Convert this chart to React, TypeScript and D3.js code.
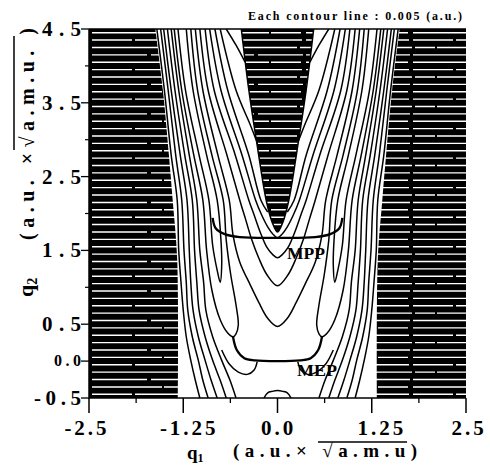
import React from "react";
import * as d3 from "d3";

type P = [number, number];

// axis ticks
const xMajorTicks = [-2.5, -1.25, 0, 1.25, 2.5];
const xMajorLabels = ["-2.5", "-1.25", "0.0", "1.25", "2.5"];
const xMinorTicks = [-1.875, -0.625, 0.625, 1.875];
const yMajorTicks = [4.5, 3.5, 2.5, 1.5, 0.5, 0.0, -0.5];
const yMajorLabels = ["4.5", "3.5", "2.5", "1.5", "0.5", "0.0", "-0.5"];
const yMinorTicks = [4.0, 3.0, 2.0, 1.0];

// dense-contour (black) regions, left half (mirrored for right)
const outerBlackEdge: P[] = [[-1.62, 4.5], [-1.52, 3.67], [-1.44, 2.79], [-1.39, 2.18], [-1.33, 1.37], [-1.32, -0.5]];
const ridgeEdge: P[] = [[-0.48, 4.5], [-0.38, 3.67], [-0.26, 2.86], [-0.15, 2.18], [-0.07, 1.88], [0, 1.75]];

// outer-wall contour lines of the left arm (leave through the bottom)
const outerQ2 = [4.5, 3.67, 2.79, 2.18, 1.5, 1.07, 0.69, 0.33, 0.01, -0.26, -0.5];
const outerQ1: number[][] = [
  [-1.6, -1.5, -1.41, -1.33, -1.31, -1.28, -1.25, -1.21, -1.15, -1.09, -1.03],
  [-1.55, -1.45, -1.35, -1.27, -1.24, -1.21, -1.19, -1.13, -1.05, -0.99, -0.92],
  [-1.51, -1.41, -1.29, -1.2, -1.17, -1.15, -1.12, -1.05, -0.96, -0.88, -0.8],
  [-1.46, -1.36, -1.23, -1.13, -1.1, -1.07, -1.04, -0.96, -0.86, -0.76, -0.68],
  [-1.41, -1.31, -1.17, -1.07, -1.03, -0.98, -0.95, -0.86, -0.74, -0.63, -0.55],
];

// contours closing on the floor of the left arm
const armTipLines: P[][] = [
  [[-1.37, 4.5], [-1.27, 3.67], [-1.11, 2.79], [-0.99, 2.18], [-0.94, 1.5], [-0.87, 0.96], [-0.76, 0.56], [-0.66, 0.38], [-0.59, 0.33],
   [-0.55, 0.37], [-0.52, 0.49], [-0.55, 0.76], [-0.62, 1.17], [-0.68, 1.64], [-0.72, 2.18], [-0.87, 2.79], [-1.06, 3.67], [-1.15, 4.5]],
  [[-1.32, 4.5], [-1.22, 3.67], [-1.04, 2.79], [-0.91, 2.18], [-0.86, 1.57], [-0.8, 1.23], [-0.76, 1.07],
   [-0.74, 1.3], [-0.75, 1.64], [-0.8, 2.18], [-0.94, 2.79], [-1.12, 3.67], [-1.21, 4.5]],
];

// U-shaped contours around the central ridge (left half, closing at q1 = 0)
const centralU: P[][] = [
  [[-1.09, 4.5], [-0.99, 3.67], [-0.79, 2.79], [-0.64, 2.18], [-0.59, 1.71], [-0.5, 1.34], [-0.36, 1.03], [-0.25, 0.8], [-0.13, 0.58], [0, 0.47]],
  [[-1.03, 4.5], [-0.92, 3.67], [-0.67, 2.79], [-0.5, 2.18], [-0.42, 1.91], [-0.34, 1.64], [-0.25, 1.4], [-0.14, 1.17], [0, 1.02]],
  [[-0.96, 4.5], [-0.84, 3.67], [-0.56, 2.79], [-0.38, 2.18], [-0.31, 1.98], [-0.23, 1.75], [-0.14, 1.54], [-0.06, 1.44], [0, 1.4]],
  [[-0.9, 4.5], [-0.75, 3.67], [-0.47, 2.79], [-0.29, 2.18], [-0.21, 1.98], [-0.13, 1.82], [-0.06, 1.72], [0, 1.67]],
];

// contours running into the ridge
const ridgeLines: P[][] = [
  [[-0.83, 4.5], [-0.66, 3.67], [-0.38, 2.79], [-0.22, 2.18], [-0.13, 2.02]],
  [[-0.76, 4.5], [-0.55, 3.67], [-0.36, 3.2], [-0.28, 2.99]],
  [[-0.68, 4.5], [-0.55, 4.28], [-0.43, 4.05]],
];

// lower well region
const jCurve: P[] = [[-0.74, 0.15], [-0.64, -0.04], [-0.52, -0.15], [-0.4, -0.18], [-0.31, -0.12], [-0.27, -0.01]];
const bumpHalf: P[] = [[-0.18, -0.5], [-0.13, -0.43], [-0.07, -0.41], [0, -0.4]];

// paths
const mppHalf: P[] = [[-0.86, 1.94], [-0.82, 1.8], [-0.7, 1.72], [-0.5, 1.68], [0, 1.67]];
const mepHalf: P[] = [[-0.59, 0.33], [-0.54, 0.15], [-0.44, 0.04], [-0.3, 0.01], [0, 0.0]];

const mirror = (pts: P[]): P[] => pts.map(([a, b]) => [-a, b] as P);
const fullU = (half: P[]): P[] => half.concat(mirror(half).reverse().slice(1));

export default function App() {
  const x = d3.scaleLinear().domain([-2.5, 2.5]).range([89, 466]);
  const y = d3.scaleLinear().domain([-0.5, 4.5]).range([398, 29]);
  const line = d3
    .line<P>()
    .x((d) => x(d[0]))
    .y((d) => y(d[1]))
    .curve(d3.curveCatmullRom.alpha(0.5));

  const leftBlack = line(outerBlackEdge) + `L${x(-2.5)},${y(-0.5)}L${x(-2.5)},${y(4.5)}Z`;
  const rightBlack = line(mirror(outerBlackEdge)) + `L${x(2.5)},${y(-0.5)}L${x(2.5)},${y(4.5)}Z`;
  const ridge = line(fullU(ridgeEdge)) + "Z";

  const stripes = d3.range(-0.45, 4.5, 0.1);

  const outerLines: P[][] = outerQ1.map((row) => row.map((v, i) => [v, outerQ2[i]] as P));

  const thin: P[][] = [];
  outerLines.forEach((l) => { thin.push(l); thin.push(mirror(l)); });
  armTipLines.forEach((l) => { thin.push(l); thin.push(mirror(l)); });
  ridgeLines.forEach((l) => { thin.push(l); thin.push(mirror(l)); });
  centralU.forEach((l) => thin.push(fullU(l)));
  thin.push(jCurve, mirror(jCurve));
  thin.push(fullU(bumpHalf));
  thin.push(fullU(ridgeEdge));

  const serif = "'Liberation Serif', 'Times New Roman', serif";
  const xLabelDx = [-2, 6, 1, 10, 3];
  const dashes = ["40 3 60 4", "70 2 30 5", "55 4 45 3", "90 3 20 2"];

  return (
    <svg width={490} height={466} style={{ position: "absolute", left: 0, top: 0, background: "#fff" }}>
      <defs>
        <clipPath id="plot">
          <rect x={x(-2.5)} y={y(4.5)} width={x(2.5) - x(-2.5)} height={y(-0.5) - y(4.5)} />
        </clipPath>
      </defs>
      <g clipPath="url(#plot)">
        <rect x={x(-2.5)} y={y(4.5)} width={x(2.5) - x(-2.5)} height={y(-0.5) - y(4.5)} fill="#fff" />
        <path d={leftBlack} fill="#000" />
        <path d={rightBlack} fill="#000" />
        <path d={ridge} fill="#000" />
        {stripes.map((s, i) => (
          <line key={i} x1={x(-2.5) + 3} x2={x(2.5)} y1={y(s)} y2={y(s)} stroke="#fff" strokeWidth={1.4} strokeDasharray={dashes[i % 4]} />
        ))}
        {thin.map((l, i) => (
          <path key={i} d={line(l) || ""} fill="none" stroke="#000" strokeWidth={1.5} />
        ))}
        <path d={line(fullU(mppHalf)) || ""} fill="none" stroke="#000" strokeWidth={2.3} />
        <path d={line(fullU(mepHalf)) || ""} fill="none" stroke="#000" strokeWidth={2.3} />
      </g>
      {/* frame */}
      <line x1={x(-2.5)} x2={x(2.5)} y1={y(4.5)} y2={y(4.5)} stroke="#000" strokeWidth={1.5} />
      <line x1={x(-2.5)} x2={x(-2.5)} y1={y(4.5)} y2={y(-0.5) + 1} stroke="#000" strokeWidth={1.5} />
      <line x1={x(-2.5)} x2={x(2.5)} y1={y(-0.5)} y2={y(-0.5)} stroke="#000" strokeWidth={1.5} />
      {/* ticks */}
      {xMajorTicks.map((t, i) => (
        <g key={"xm" + i}>
          <line x1={x(t)} x2={x(t)} y1={y(-0.5)} y2={y(-0.5) + 15} stroke="#000" strokeWidth={1.5} />
          <text x={x(t) + xLabelDx[i]} y={435} textAnchor="middle" fontFamily={serif} fontWeight="bold" fontSize={21} letterSpacing={3}>
            {xMajorLabels[i]}
          </text>
        </g>
      ))}
      {xMinorTicks.map((t, i) => (
        <line key={"xn" + i} x1={x(t)} x2={x(t)} y1={y(-0.5)} y2={y(-0.5) + 5} stroke="#000" strokeWidth={1.3} />
      ))}
      {yMajorTicks.map((t, i) => {
        const lab = yMajorLabels[i];
        const small = lab === "0.0";
        const w = small ? 27 : lab.length === 4 ? 47 : 39;
        return (
          <g key={"ym" + i}>
            <line x1={x(-2.5) - 8} x2={x(-2.5)} y1={y(t)} y2={y(t)} stroke="#000" strokeWidth={1.3} />
            <text x={81 - w} y={y(t) + (small ? 5 : 7)} textLength={w} lengthAdjust="spacing" fontFamily={serif} fontWeight="bold" fontSize={small ? 16 : 21}>
              {lab}
            </text>
          </g>
        );
      })}
      {yMinorTicks.map((t, i) => (
        <line key={"yn" + i} x1={x(-2.5) - 4} x2={x(-2.5)} y1={y(t)} y2={y(t)} stroke="#000" strokeWidth={1.2} />
      ))}
      {/* labels in the plot */}
      <text x={287} y={259} textLength={38} lengthAdjust="spacingAndGlyphs" fontFamily={serif} fontWeight="bold" fontSize={16}>MPP</text>
      <text x={297} y={376} textLength={40} lengthAdjust="spacingAndGlyphs" fontFamily={serif} fontWeight="bold" fontSize={16}>MEP</text>
      {/* note */}
      <text x={248} y={20} textLength={214} lengthAdjust="spacing" fontFamily={serif} fontWeight="bold" fontSize={12}>
        Each contour line :  0.005 (a.u.)
      </text>
      {/* x title */}
      <text x={187} y={459} fontFamily={serif} fontWeight="bold" fontSize={19}>
        q<tspan fontSize={12} dy={3}>1</tspan>
      </text>
      <text x={233} y={457} textLength={184} lengthAdjust="spacing" fontFamily={serif} fontWeight="bold" fontSize={19}>
        (a.u.× √a.m.u)
      </text>
      <line x1={318} x2={407} y1={442} y2={442} stroke="#000" strokeWidth={1.5} />
      {/* y title */}
      <g transform="translate(33,297) rotate(-90)">
        <text x={0} y={0} fontFamily={serif} fontWeight="bold" fontSize={22}>
          q<tspan fontSize={14} dy={4}>2</tspan>
        </text>
      </g>
      <g transform="translate(34,240) rotate(-90)">
        <text x={0} y={0} textLength={212} lengthAdjust="spacing" fontFamily={serif} fontWeight="bold" fontSize={20}>
          (a.u. ×√a.m.u. )
        </text>
      </g>
      <line x1={14} x2={14} y1={150} y2={36} stroke="#000" strokeWidth={1.5} />
    </svg>
  );
}
